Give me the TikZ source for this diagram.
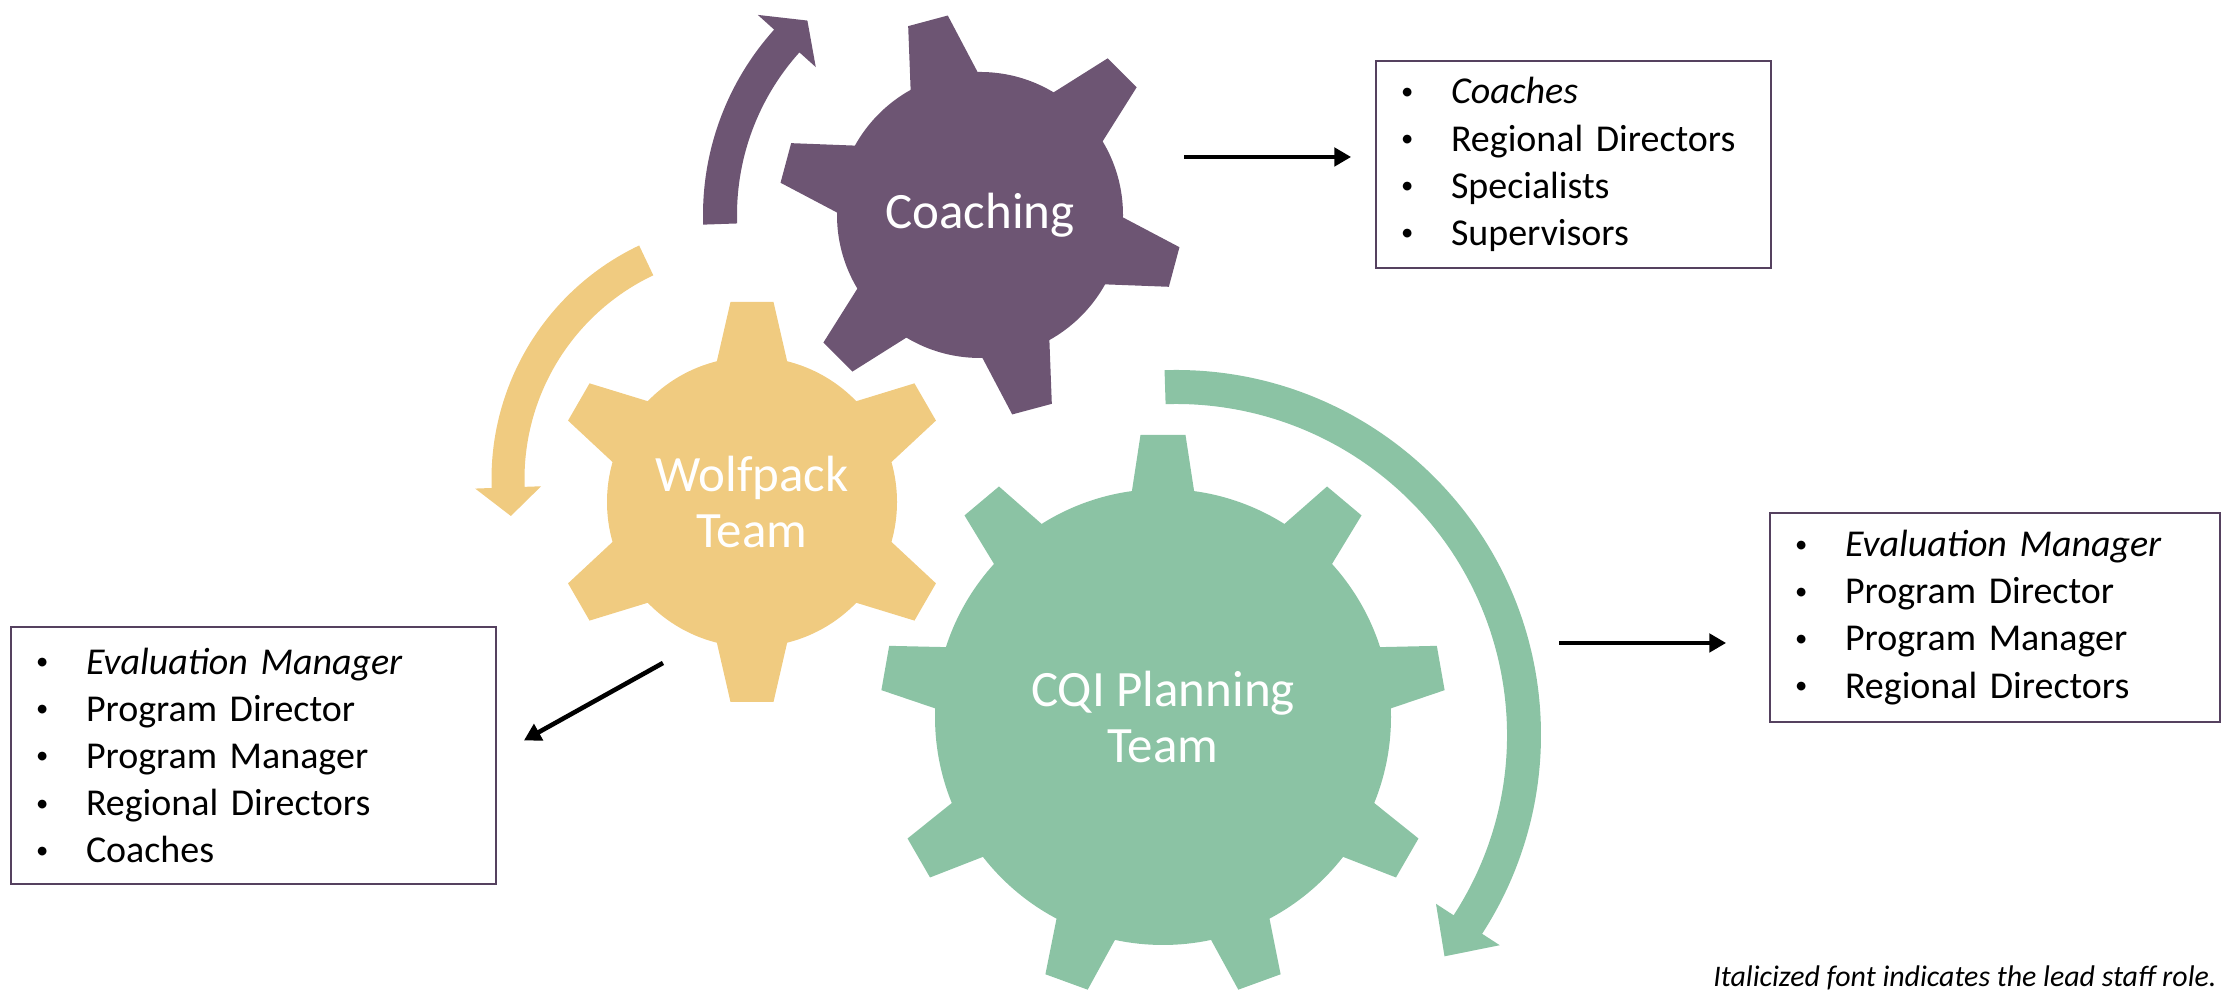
\documentclass[tikz,border=0pt]{standalone}
\usepackage{fontspec}
\setmainfont{Carlito}
\usepackage{xcolor}
\usepackage{graphicx}
\definecolor{gearpurple}{RGB}{109,85,115}
\definecolor{gearyellow}{RGB}{240,203,128}
\definecolor{geargreen}{RGB}{139,195,164}
\definecolor{boxline}{RGB}{85,65,95}
\newcommand{\role}[1]{\makebox[0.5cm][l]{\raisebox{0.25ex}{\scalebox{0.65}{\textbullet}}}#1}
% centre, colour, body radius, tip radius, tooth angles, tip half width, base half width
\newcommand{\cogwheel}[7]{%
  \begin{scope}[shift={#1}]
    \fill[#2] (0,0) circle (#3);
    \foreach \a in {#5}
      \fill[#2, rotate=\a] (#3-0.08,-#7) -- (#4,-#6) -- (#4,#6) -- (#3-0.08,#7) -- cycle;
  \end{scope}}
% centre, colour, radius, half width, tail angle, head angle, tip angle, head half width
\newcommand{\turnarrow}[8]{%
  \begin{scope}[shift={#1}]
    \fill[#2] (#5:#3+#4) arc[start angle=#5, end angle=#6, radius=#3+#4]
      -- (#6:#3+#8) -- (#7:#3) -- (#6:#3-#8) -- (#6:#3-#4)
      arc[start angle=#6, end angle=#5, radius=#3-#4] -- cycle;
  \end{scope}}
\usetikzlibrary{arrows.meta}
\usetikzlibrary{calc}
\usetikzlibrary{positioning}

\begin{document}
\begin{tikzpicture}[
    gearlabel/.style={text=white, align=center, font=\fontsize{14.5}{16.2}\selectfont},
    rolebox/.style={draw=boxline, line width=0.5pt, align=left, inner xsep=0.25cm,
      font=\fontsize{10.8}{13.4}\selectfont},
    conn/.style={line width=1.3pt, -{Triangle[length=4.8pt,width=5.2pt]}}
  ]
    \useasboundingbox (0,0) rectangle (22.28,10);

    \turnarrow{(9.80,7.85)}{gearpurple}{2.60}{0.17}{182}{138}{131.6}{0.39}
    \turnarrow{(7.50,5.21)}{gearyellow}{2.42}{0.165}{115.4}{182}{188.8}{0.33}
    \turnarrow{(11.76,2.65)}{geargreen}{3.48}{0.17}{91.8}{-33}{-39.5}{0.38}

    \cogwheel{(9.80,7.85)}{gearpurple}{1.43}{2.01}{105,165,...,405}{0.205}{0.355}
    \cogwheel{(7.52,4.98)}{gearyellow}{1.45}{2.00}{90,150,...,390}{0.215}{0.36}
    \cogwheel{(11.63,2.83)}{geargreen}{2.28}{2.82}{90,130,...,410}{0.225}{0.32}

    \node[gearlabel] (coach) at (9.80,7.85) {Coaching};
    \node[gearlabel] (wolf) at (7.52,4.98) {Wolfpack\\Team};
    \node[gearlabel] (cqi) at (11.63,2.83) {CQI Planning\\Team};

    \node[rolebox, text width=3.45cm, minimum height=2.07cm] (coachbox) at (15.735,8.355)
    {\role{\textit{Coaches}}\\ \role{Regional Directors}\\ \role{Specialists}\\ \role{Supervisors}};
    \node[rolebox, text width=4.00cm, minimum height=2.09cm] (cqibox) at (19.95,3.825)
    {\role{\textit{Evaluation Manager}}\\ \role{Program Director}\\ \role{Program Manager}\\ \role{Regional Directors}};
    \node[rolebox, text width=4.35cm, minimum height=2.57cm] (wolfbox) at (2.535,2.445)
    {\role{\textit{Evaluation Manager}}\\ \role{Program Director}\\ \role{Program Manager}\\ \role{Regional Directors}\\ \role{Coaches}};

    \coordinate (coachout) at (11.84,8.43);
    \draw[conn, shorten >=0.24cm] (coachout) -- (coachout -| coachbox.west);
    \coordinate (cqiout) at (15.59,3.57);
    \draw[conn, shorten >=0.43cm] (cqiout) -- (cqiout -| cqibox.west);
    \coordinate (wolfout) at (6.63,3.37);
    \draw[conn, shorten >=0.31cm] (wolfout) -- (wolfbox.east);

    \node[anchor=west, font=\fontsize{8.5}{10}\selectfont\itshape] (note) at (17.01,0.22)
    {Italicized font indicates the lead staff role.};

  \end{tikzpicture}
\end{document}
